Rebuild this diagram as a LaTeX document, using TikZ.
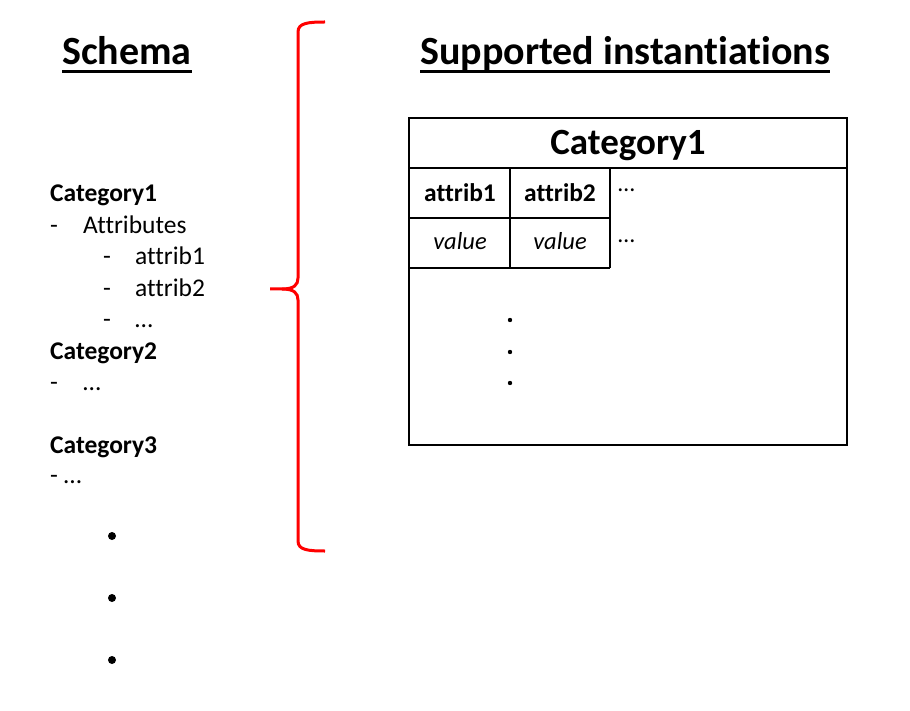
\documentclass[tikz,border=0pt]{standalone}
\usepackage{fontspec}
\setmainfont{Carlito}[Ligatures=NoCommon]
\begin{document}
\begin{tikzpicture}[x=1pt,y=-1pt,
  ttl/.style={anchor=base west,inner sep=0pt,font=\fontsize{40}{48}\selectfont\bfseries},
  lst/.style={anchor=base west,inner sep=0pt,font=\fontsize{25.5}{30}\selectfont},
  lstb/.style={anchor=base west,inner sep=0pt,font=\fontsize{25.5}{30}\selectfont\bfseries},
  cellb/.style={anchor=base,inner sep=0pt,font=\fontsize{25.5}{28}\selectfont\bfseries},
  celli/.style={anchor=base,inner sep=0pt,font=\fontsize{24.5}{28}\selectfont\itshape},
  cellt/.style={anchor=base west,inner sep=0pt,font=\fontsize{24}{28}\selectfont},
  brace/.style={draw=red,line width=3pt},
  grid/.style={draw=black,line width=1.3pt},
  uline/.style={draw=black,line width=3pt}
]
\useasboundingbox (0,0) rectangle (910,711);

% titles
\node[ttl] (schema) at (62,65) {Schema};
\node[ttl] (supp) at (420,65) {Supported instantiations};
\draw[uline] ([yshift=-7pt]schema.base west) -- ([yshift=-7pt]schema.base east);
\draw[uline] ([yshift=-7pt]supp.base west) -- ([yshift=-7pt]supp.base east);

% schema list
\node[lstb] (c1) at (50,202) {Category1};
\node[lst] (d1) at (50,234) {-};
\node[lst] (attrs) at (83,234) {Attributes};
\node[lst] (d2) at (103,265) {-};
\node[lst] (a1) at (135,265) {attrib1};
\node[lst] (d3) at (103,297) {-};
\node[lst] (a2) at (135,297) {attrib2};
\node[lst] (d4) at (103,327) {-};
\node[lst] (a3) at (135,327) {…};
\node[lstb] (c2) at (50,359) {Category2};
\node[lst] (d5) at (50,390) {-};
\node[lst] (e2) at (83,390) {…};
\node[lstb] (c3) at (50,453) {Category3};
\node[lst] (e3) at (50,483) {- …};

\fill (112,536) circle (4pt);
\fill (112,598) circle (4pt);
\fill (112,660) circle (4pt);

% brace
\draw[brace] (325,22) .. controls (308,22) and (298,23) .. (298,32)
  -- (298,278) .. controls (298,285) and (294,289) .. (282,289) -- (270,289);
\draw[brace] (282,289) .. controls (294,289) and (298,293) .. (298,300)
  -- (298,541) .. controls (298,550) and (308,551) .. (325,551);

% table
\draw[grid] (409,118) rectangle (847,445);
\draw[grid] (409,168) -- (847,168);
\draw[grid] (409,218) -- (610,218);
\draw[grid] (409,268) -- (610,268);
\draw[grid] (510,168) -- (510,268);
\draw[grid] (610,168) -- (610,268);

\node[anchor=base,inner sep=0pt,font=\fontsize{37}{44}\selectfont\bfseries] (thead) at (628,155) {Category1};
\node[cellb] (h1) at (460,202) {attrib1};
\node[cellb] (h2) at (560,202) {attrib2};
\node[cellt] (h3) at (618,192) {…};
\node[celli] (v1) at (460,250) {value};
\node[celli] (v2) at (560,250) {value};
\node[cellt] (v3) at (618,243) {…};

\fill (510,320) circle (2.2pt);
\fill (510,352) circle (2.2pt);
\fill (510,383) circle (2.2pt);
\end{tikzpicture}
\end{document}
